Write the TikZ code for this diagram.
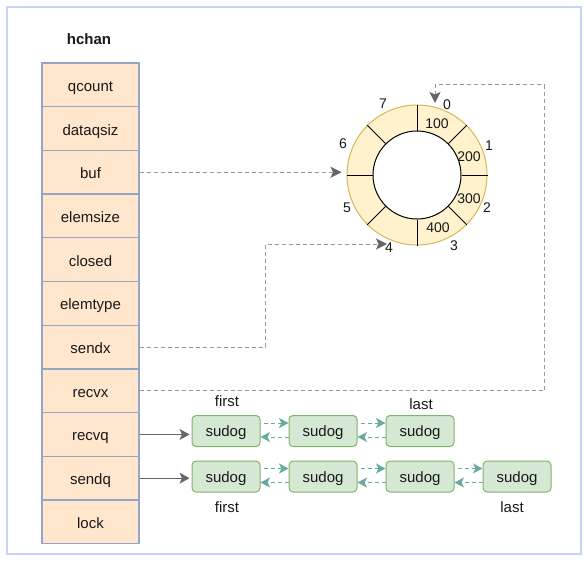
\documentclass[tikz,border=0pt]{standalone}
\usepackage{fontspec}
\setmainfont{Liberation Sans}
\usetikzlibrary{arrows.meta,positioning,calc}

\definecolor{framecol}{HTML}{C6D4FA}
\definecolor{cellfill}{HTML}{FFE6CC}
\definecolor{celldraw}{HTML}{94A6C6}
\definecolor{ringfill}{HTML}{FFF2CC}
\definecolor{ringdraw}{HTML}{D6B656}
\definecolor{sudogfill}{HTML}{D5E8D4}
\definecolor{sudogdraw}{HTML}{82B366}
\definecolor{linkcol}{HTML}{67AB9F}

\tikzset{
	txt/.style={font=\fontsize{15}{18}\selectfont, text=black!90, inner sep=0pt, text height=11pt, text depth=1.5pt},
	num/.style={font=\fontsize{14}{16}\selectfont, text=black!90, inner sep=0pt},
	cell/.style={txt, text height=13pt, text depth=0pt, draw=celldraw, fill=cellfill, line width=1.2pt, minimum width=97pt, minimum height=43.6pt},
	sudog/.style={txt, text height=12pt, text depth=0.5pt, draw=sudogdraw, fill=sudogfill, line width=1pt, rounded corners=4pt, minimum width=68pt, minimum height=31pt},
	ptr/.style={draw=black!40, line width=1pt, dash pattern=on 4pt off 3pt, -{Stealth[length=11pt,width=11pt,inset=2.5pt,color=black!60,fill=black!60]}},
	qptr/.style={draw=black!60, line width=1pt, -{Stealth[length=10pt,width=11pt,inset=2.5pt]}},
	fwd/.style={draw=linkcol, line width=1pt, dash pattern=on 4pt off 3pt, -{Stealth[length=9.5pt,width=10pt,inset=2.5pt]}, shorten <=3pt},
}

\begin{document}
\begin{tikzpicture}[x=1pt, y=-1pt]
			%%%%% START %%%%%
			\useasboundingbox (0,0) rectangle (585,567);
			\draw[framecol, line width=1.5pt] (7,7) rectangle (581,554);
			
			% hchan struct
			\node[txt, font=\fontsize{15}{18}\selectfont\bfseries] (hchan) at (89,40) {hchan};
			\foreach \name [count=\i] in {qcount,dataqsiz,buf,elemsize,closed,elemtype,sendx,recvx,recvq,sendq,lock}
				\node[cell] (\name) at (90.5, {63+(\i-0.5)*43.7}) {\name};
			
			% ring buffer
			\node[circle, draw=ringdraw, fill=ringfill, line width=1pt, minimum size=140pt, inner sep=0pt] (ring) at (417,175) {};
			\node[circle, draw=black, fill=white, line width=1pt, minimum size=88pt, inner sep=0pt] (hole) at (ring) {};
			\foreach \a in {0,45,...,315}
				\draw[line width=1pt] (hole.\a) -- (ring.\a);
			
			\node[num] (v0) at (437,124) {100};
			\node[num] (v1) at (469,157) {200};
			\node[num] (v2) at (469,199) {300};
			\node[num] (v3) at (438,228) {400};
			
			\node[num] (i0) at (447,105) {0};
			\node[num] (i1) at (489,146) {1};
			\node[num] (i2) at (487,208) {2};
			\node[num] (i3) at (454,246) {3};
			\node[num] (i4) at (389,248) {4};
			\node[num] (i5) at (347,208) {5};
			\node[num] (i6) at (343,144) {6};
			\node[num] (i7) at (383,104) {7};
			
			\coordinate (tip0) at (435,103);
			\coordinate (tip4) at (387,244);
			
			\draw[ptr, shorten >=5pt] (buf.east) -- (buf.east -| ring.west);
			\draw[ptr] (sendx.east) -- ++(126,0) |- (tip4);
			\draw[ptr] (recvx.east) -- ++(405,0) |- ($(tip0)+(0,-18)$) -- (tip0);
			
			% wait queues
			\node[sudog] (r1) at (226,431) {sudog};
			\node[sudog] (r2) at (323,431) {sudog};
			\node[sudog] (r3) at (420,431) {sudog};
			
			\node[sudog] (s1) at (226,476.5) {sudog};
			\node[sudog] (s2) at (323,476.5) {sudog};
			\node[sudog] (s3) at (420,476.5) {sudog};
			\node[sudog] (s4) at (517,476.5) {sudog};
			
			\node[txt] (rfirst) at (227,402) {first};
			\node[txt] (rlast) at (421,405) {last};
			\node[txt] (sfirst) at (227,508) {first};
			\node[txt] (slast) at (512,508) {last};
			
			\draw[qptr, shorten >=2pt] (recvq.east) -- (recvq.east -| r1.west);
			\draw[qptr, shorten >=2pt] (sendq.east) -- (sendq.east -| s1.west);
			
			\foreach \a/\b in {r1/r2,r2/r3,s1/s2,s2/s3,s3/s4} {
				\draw[fwd] ([yshift=8pt]\a.east) -- ([yshift=8pt]\b.west);
				\draw[fwd, shorten <=0pt] ([yshift=-6pt]\b.west) -- ([yshift=-6pt]\a.east);
			}
			%%%%% END %%%%%
		\end{tikzpicture}
\end{document}
